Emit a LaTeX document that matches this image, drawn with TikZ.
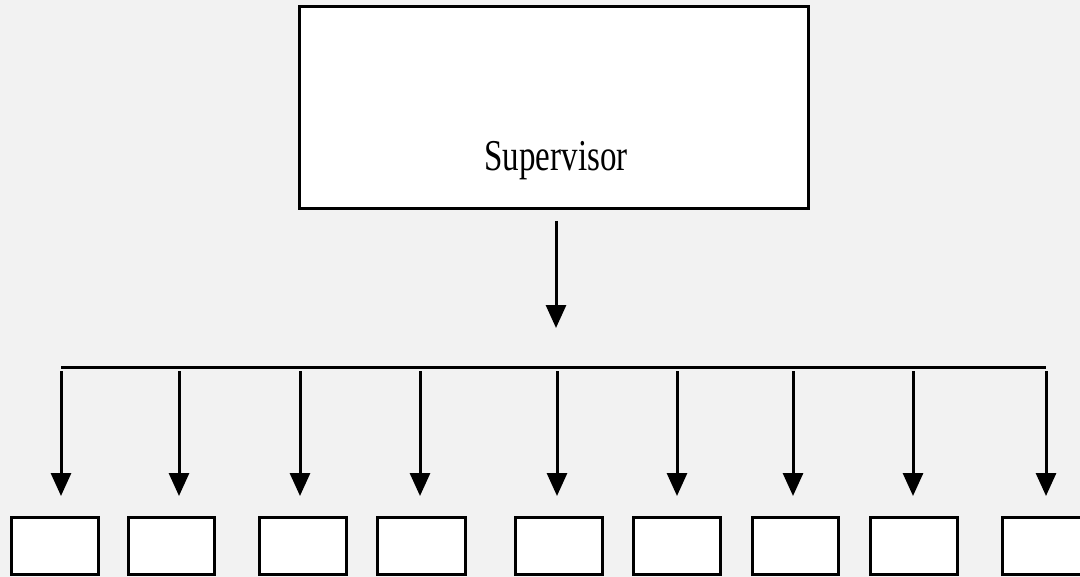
\documentclass[tikz,border=0pt]{standalone}
\usepackage{fontspec}
\setmainfont{Liberation Serif}
\usetikzlibrary{arrows.meta}
\definecolor{paper}{HTML}{F2F2F2}
\begin{document}
\begin{tikzpicture}[x=0.5pt,y=-0.5pt,
  every node/.style={inner sep=0pt, outer sep=0pt},
  box/.style={draw=black, fill=white, line width=1.5pt, rectangle},
  link/.style={line width=1.5pt, -{Triangle[width=10pt,length=11.5pt]}},
  bus/.style={line width=1.5pt}]
% page background
\fill[paper] (0,0) rectangle (1080,577);
\useasboundingbox (0,0) rectangle (1080,577);

% supervisor box and its label
\node[box, minimum width=254.5pt, minimum height=101pt] (sup) at (553.5,108) {};
\node[anchor=base] (suplabel) at (556,171)
  {\fontsize{22pt}{22pt}\selectfont\scalebox{0.75}[1]{Supervisor}};

% arrow down to the distribution line
\coordinate (supout) at (556,221);
\coordinate (supin) at (556,328);
\draw[link] (supout) -- (supin);

% distribution line
\coordinate (busL) at (61,367.5);
\coordinate (busR) at (1046,367.5);
\draw[bus] (busL) -- (busR);

% subordinate boxes
\foreach \l/\r [count=\i] in {11/98,128/214,259/346,377/465,515/602,633/720,752/838,870/957,1002/1092}
  \node[box, minimum width={(\r-\l)*0.5pt}, minimum height=28.5pt] (w\i) at ({(\l+\r)/2},545.5) {};

% arrows from the distribution line towards the boxes
\foreach \x [count=\i] in {61,179,300,420,557,677,793,913,1046} {
  \coordinate (from\i) at (\x,371);
  \coordinate (to\i) at (\x,496);
  \draw[link] (from\i) -- (to\i);
}
\end{tikzpicture}
\end{document}
